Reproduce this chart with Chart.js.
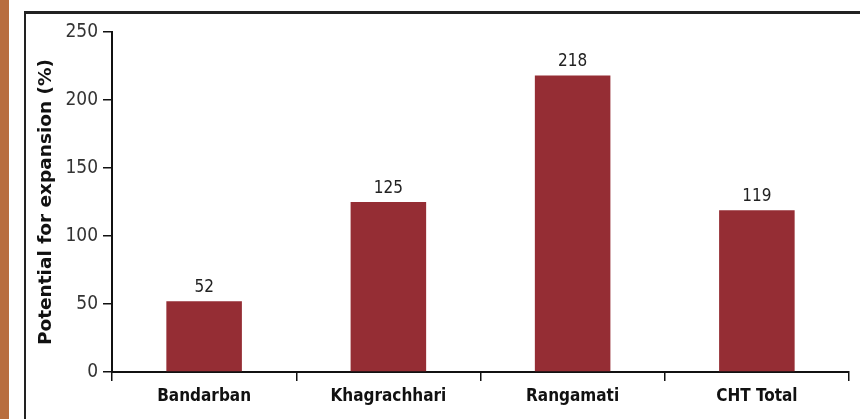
<!DOCTYPE html>
<html>
<head>
<meta charset="utf-8">
<script src="https://cdn.jsdelivr.net/npm/chart.js@4.4.1/dist/chart.umd.min.js"></script>
<style>
  html, body { margin: 0; padding: 0; background: #fff; }
  #wrap { position: relative; width: 860px; height: 419px; }
</style>
</head>
<body>
<div id="wrap"><canvas id="barChart" width="860" height="419"></canvas></div>
<script>
const categories = ["Bandarban", "Khagrachhari", "Rangamati", "CHT Total"];
const expansion = [52, 125, 218, 119];
const yTicks = [0, 50, 100, 150, 200, 250];

const narrow = "'DejaVu Sans Condensed', 'Liberation Sans', sans-serif";

// frame: orange strip on the left and black border
const framePlugin = {
    id: "frame",
    beforeDraw(chart) {
        const ctx = chart.ctx;
        ctx.save();
        ctx.fillStyle = "#fff";
        ctx.fillRect(0, 0, chart.width, chart.height);
        ctx.fillStyle = "#b86d3f";
        ctx.fillRect(0, 0, 9, chart.height);
        ctx.fillStyle = "#222";
        ctx.fillRect(24, 11, chart.width - 24, 3);
        ctx.fillRect(24, 11, 2, chart.height - 11);
        ctx.restore();
    }
};

// value labels above the bars
const valueLabels = {
    id: "valueLabels",
    afterDatasetsDraw(chart) {
        const ctx = chart.ctx;
        const meta = chart.getDatasetMeta(0);
        ctx.save();
        ctx.font = "17px " + narrow;
        ctx.fillStyle = "#222";
        ctx.textAlign = "center";
        ctx.textBaseline = "bottom";
        meta.data.forEach((bar, i) => {
            ctx.fillText(String(expansion[i]), bar.x, bar.y - 5);
        });
        ctx.restore();
    }
};

const bar = document.getElementById("barChart");

new Chart(bar, {
    type: "bar",
    data: {
        labels: categories,
        datasets: [{
            data: expansion,
            backgroundColor: "#952d34",
            barPercentage: 0.41,
            categoryPercentage: 1
        }]
    },
    options: {
        responsive: false,
        animation: false,
        layout: { padding: { top: 32, right: 11, left: 28, bottom: 0 } },
        plugins: {
            legend: { display: false },
            tooltip: { enabled: false }
        },
        scales: {
            x: {
                offset: true,
                afterFit: (s) => { s.height = 47; },
                border: { color: "#111", width: 2 },
                grid: {
                    offset: true,
                    drawOnChartArea: false,
                    color: "#111",
                    lineWidth: 1.5,
                    tickLength: 9
                },
                ticks: {
                    color: "#111",
                    padding: 5,
                    font: { family: narrow, size: 17, weight: "bold" }
                }
            },
            y: {
                min: 0,
                max: 250,
                afterFit: (s) => { s.width = 84; },
                afterBuildTicks: (s) => { s.ticks = yTicks.map(v => ({ value: v })); },
                border: { color: "#111", width: 2 },
                grid: {
                    drawOnChartArea: false,
                    color: "#111",
                    lineWidth: 1.5,
                    tickLength: 9
                },
                ticks: {
                    color: "#333",
                    padding: 5,
                    font: { family: narrow, size: 19 }
                },
                title: {
                    display: true,
                    text: "Potential for expansion (%)",
                    color: "#111",
                    padding: { top: 7, bottom: 0 },
                    font: { family: "'DejaVu Sans', sans-serif", size: 18.5, weight: "bold" }
                }
            }
        }
    },
    plugins: [framePlugin, valueLabels]
});
</script>
</body>
</html>
